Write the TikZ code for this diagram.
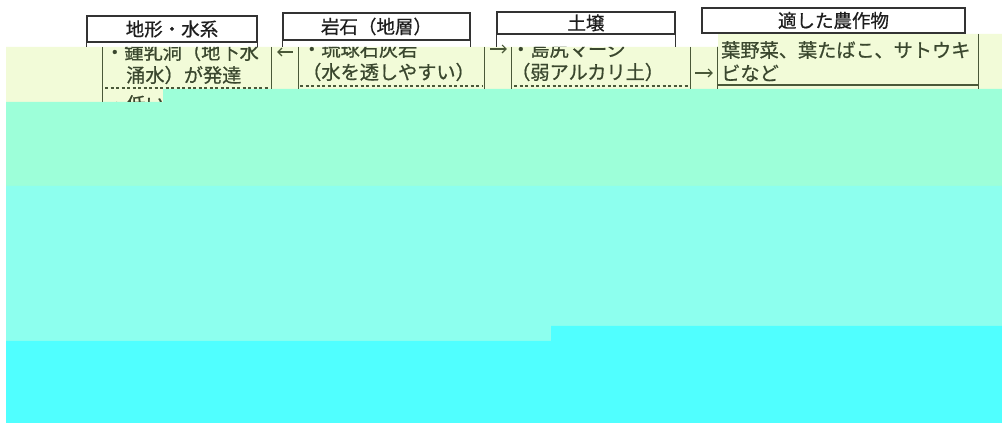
\documentclass[tikz,border=0pt]{standalone}
\usepackage{fontspec}
\newfontfamily\jp[FakeBold=0.7]{Noto Sans CJK JP}
\usetikzlibrary{arrows.meta}
\definecolor{bandY}{HTML}{F2FBD8}
\definecolor{bandM}{HTML}{9DFFD9}
\definecolor{bandC}{HTML}{8DFFEE}
\definecolor{bandB}{HTML}{50FFFF}
\definecolor{hline}{HTML}{333333}
\definecolor{htext}{HTML}{1E1E1E}
\definecolor{bline}{HTML}{4A5838}
\definecolor{btext}{HTML}{3A472E}
\begin{document}
\begin{tikzpicture}[x=1pt,y=-1pt,
  hdr/.style={draw=hline, line width=1.4pt, inner sep=0pt, text=htext,
    font=\jp\fontsize{18.5}{18.5}\selectfont},
  hdrline/.style={draw=hline, line width=1.4pt},
  frame/.style={inner sep=0pt, draw=none},
  bodyline/.style={draw=bline, line width=1.3pt},
  sepline/.style={draw=bline, line width=1.1pt, dash pattern=on 3pt off 2.5pt},
  btxt/.style={anchor=west, inner sep=0pt, text=btext, font=\jp\fontsize{19.2}{19.2}\selectfont},
  arr/.style={draw=bline, line width=1.1pt, -{Straight Barb[length=4pt,width=8pt]}}]
\useasboundingbox (0,0) rectangle (1002,427);
% colour bands
\fill[bandY] (6,47) -- (718,47) -- (718,34) -- (1002,34) -- (1002,89) -- (163,89) -- (163,102) -- (6,102) -- cycle;
\fill[bandM] (163,89) -- (1002,89) -- (1002,186) -- (6,186) -- (6,102) -- (163,102) -- cycle;
\fill[bandC] (6,186) -- (1002,186) -- (1002,326) -- (551,326) -- (551,341) -- (6,341) -- cycle;
\fill[bandB] (551,326) -- (1002,326) -- (1002,423) -- (6,423) -- (6,341) -- (551,341) -- cycle;
% header boxes
\coordinate (ytop) at (0,47);
\node[hdr, minimum width=170pt, minimum height=26pt] (h1) at (172,29) {地形・水系};
\node[hdr, minimum width=187pt, minimum height=27pt] (h2) at (376.5,26.5) {岩石（地層）};
\node[hdr, minimum width=178pt, minimum height=22pt] (h3) at (586,23) {土壌};
\node[hdr, minimum width=263pt, minimum height=25pt] (h4) at (833.5,20.5) {適した農作物};
\foreach \h in {h1,h2,h3}{
  \draw[hdrline] (\h.south west) -- (\h.south west |- ytop);
  \draw[hdrline] (\h.south east) -- (\h.south east |- ytop);
}
% body frames
\node[frame, minimum width=168pt, minimum height=42pt] (b1) at (187,68) {};
\node[frame, minimum width=185pt, minimum height=42pt] (b2) at (391.5,68) {};
\node[frame, minimum width=178pt, minimum height=42pt] (b3) at (601,68) {};
\node[frame, minimum width=260pt, minimum height=55pt] (b4) at (848,61.5) {};
\coordinate (ya) at (0,52);
\coordinate (yb) at (0,49);
\coordinate (yc) at (0,73);
\coordinate (ylow) at (0,102);
\begin{scope}
\clip (6,47) -- (718,47) -- (718,33) -- (1002,33) -- (1002,89) -- (163,89) -- (163,102) -- (6,102) -- cycle;
% column lines
\draw[bodyline] (b1.north west) -- (b1.south west |- ylow);
\draw[bodyline] (b1.north east) -- (b1.south east);
\draw[sepline] (105,88) -- (268,88);
\draw[bodyline] (b2.north west) -- (b2.south west);
\draw[bodyline] (b2.north east) -- (b2.south east);
\draw[sepline] (300,86) -- (482,86);
\draw[bodyline] (b3.north west) -- (b3.south west);
\draw[bodyline] (b3.north east) -- (b3.south east);
\draw[sepline] (514,86) -- (688,86);
\draw[bodyline] (b4.north west) -- (b4.south west);
\draw[bodyline] (b4.north east) -- (b4.south east);
\draw[bodyline] (718,85) -- (978,85);
% texts
\node[btxt] (t1a) at (105,52) {・鍾乳洞（地下水};
\node[btxt] (t1b) at (126,75) {涌水）が発達};
\node[btxt] (t1c) at (107,104) {・低い};
\node[btxt] (t2a) at (302,49) {・琉球石灰岩};
\node[btxt] (t2b) at (302,72) {（水を透しやすい）};
\node[btxt] (t3a) at (511,49) {・島尻マージ};
\node[btxt] (t3b) at (511,72) {（弱アルカリ土）};
\node[btxt] (t4a) at (721,50) {葉野菜、葉たばこ、サトウキ};
\node[btxt] (t4b) at (721,73) {ビなど};
\end{scope}
% arrows between columns
\draw[arr, shorten <=6pt, shorten >=6pt] (b2.west |- ya) -- (b1.east |- ya);
\draw[arr, shorten <=6pt, shorten >=5pt] (b2.east |- yb) -- (b3.west |- yb);
\draw[arr, shorten <=5pt, shorten >=5pt] (b3.east |- yc) -- (b4.west |- yc);
\end{tikzpicture}
\end{document}
